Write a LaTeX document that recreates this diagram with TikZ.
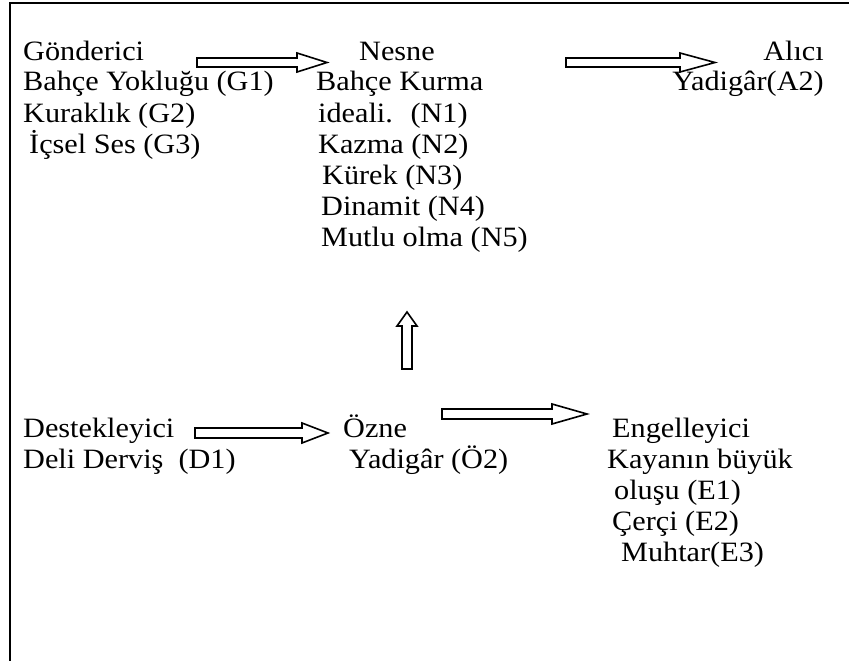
\documentclass[tikz,border=0pt]{standalone}
\usepackage{fontspec}
\setmainfont[FakeStretch=1.08]{Liberation Serif}
\begin{document}
\begin{tikzpicture}[x=1pt,y=-1pt,
  lbl/.style={anchor=base west,inner sep=0pt,font=\fontsize{28}{31}\selectfont},
  lblr/.style={lbl,anchor=base east},
  barrow/.style={draw=black,fill=white,line width=1.6pt,line join=miter}]
\useasboundingbox (0,0) rectangle (849,661);
% frame: top and left rules
\draw[line width=2.2pt] (849,3) -- (10,3) -- (10,661);

% sender
\node[lbl] (g0) at (23,60) {Gönderici};
\node[lbl] (g1) at (23,91) {Bahçe Yokluğu (G1)};
\node[lbl] (g2) at (23,122) {Kuraklık (G2)};
\node[lbl] (g3) at (29,153) {İçsel Ses (G3)};

% object
\node[lbl] (n0) at (359,60) {Nesne};
\node[lbl] (n1) at (316,91) {Bahçe Kurma};
\node[lbl] (n2) at (318,122) {ideali.~ (N1)};
\node[lbl] (n3) at (318,153) {Kazma (N2)};
\node[lbl] (n4) at (322,184) {Kürek (N3)};
\node[lbl] (n5) at (321,215) {Dinamit (N4)};
\node[lbl] (n6) at (321,246) {Mutlu olma (N5)};

% receiver
\node[lblr] (a0) at (824,60) {Alıcı};
\node[lblr] (a1) at (824,91) {Yadigâr(A2)};

% helper
\node[lbl] (d0) at (23,437) {Destekleyici};
\node[lbl] (d1) at (23,468) {Deli Derviş~ (D1)};

% subject
\node[lbl] (o0) at (343,437) {Özne};
\node[lbl] (o1) at (349,468) {Yadigâr (Ö2)};

% opponent
\node[lbl] (e0) at (612,437) {Engelleyici};
\node[lbl] (e1) at (607,468) {Kayanın büyük};
\node[lbl] (e2) at (614,499) {oluşu (E1)};
\node[lbl] (e3) at (612,530) {Çerçi (E2)};
\node[lbl] (e4) at (621,561) {Muhtar(E3)};

% block arrows
\draw[barrow] (197,58) -- (297,58) -- (297,53) -- (327,62.5) -- (297,72) -- (297,67) -- (197,67) -- cycle;
\draw[barrow] (566,58) -- (680,58) -- (680,53) -- (715,62.5) -- (680,72) -- (680,67) -- (566,67) -- cycle;
\draw[barrow] (195,428) -- (302,428) -- (302,423) -- (328,433) -- (302,443) -- (302,438) -- (195,438) -- cycle;
\draw[barrow] (442,409) -- (552,409) -- (552,404) -- (587,414) -- (552,424) -- (552,419) -- (442,419) -- cycle;
\draw[barrow] (402,369) -- (402,326) -- (397,326) -- (407,312) -- (417,326) -- (412,326) -- (412,369) -- cycle;
\end{tikzpicture}
\end{document}
